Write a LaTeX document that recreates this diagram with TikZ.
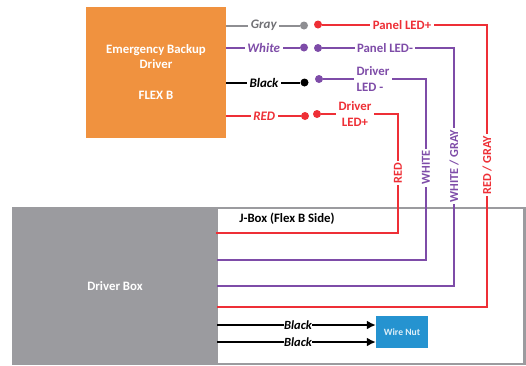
\documentclass[tikz,border=0pt]{standalone}
\usepackage{fontspec}
\setmainfont{Carlito}
\usetikzlibrary{arrows.meta}

\definecolor{flexorange}{HTML}{F0923F}
\definecolor{boxgray}{HTML}{9B9B9F}
\definecolor{wiregray}{HTML}{8E8E92}
\definecolor{wirered}{HTML}{EE2F36}
\definecolor{wirepurple}{HTML}{7E4CA8}
\definecolor{nutblue}{HTML}{2593D0}

\tikzset{
	wire/.style={line width=2pt,line join=miter},
	dot/.style={circle,fill,inner sep=0pt,minimum size=8pt},
	tag/.style={fill=white,inner sep=2.5pt,font=\bfseries\fontsize{12.8}{15.5}\selectfont},
	itag/.style={tag,font=\bfseries\itshape\fontsize{13}{15}\selectfont},
	vtag/.style={tag,rotate=90,inner sep=2pt,font=\bfseries\fontsize{12.2}{14}\selectfont},
}

\begin{document}
\begin{tikzpicture}[x=1pt,y=-1pt]

	\useasboundingbox (0,0) rectangle (526,365);

	% boxes
	\draw[boxgray,line width=2.5pt] (13,208) rectangle (524.5,364);
	\node[fill=boxgray,minimum width=206pt,minimum height=158pt,inner sep=0pt] (driverbox) at (115,286) {};
	\node[text=white,font=\bfseries\fontsize{12.8}{15}\selectfont] (drivertext) at (115,286) {Driver Box};
	\node[fill=flexorange,minimum width=140pt,minimum height=131pt,inner sep=0pt] (flex) at (156,72.5) {};
	\node[text=white,align=center,font=\bfseries\fontsize{12.8}{15.5}\selectfont] (flextext) at (156,72) {Emergency Backup\\Driver\\[15.5pt]FLEX B};
	\node[fill=nutblue,minimum width=52pt,minimum height=32pt,inner sep=0pt,text=white!85!nutblue,font=\bfseries\fontsize{9.6}{12}\selectfont] (nut) at (402,332) {Wire Nut};
	\node[font=\bfseries\fontsize{12.8}{15}\selectfont] (jbox) at (287,219) {J-Box (Flex B Side)};

	% left side of the connectors
	\node[dot,wiregray] (grayend) at (304,25.5) {};
	\node[dot,wirepurple] (whiteend) at (304,47.5) {};
	\node[dot,black] (blackend) at (304.5,82.5) {};
	\node[dot,wirered] (redend) at (305,116) {};

	\draw[wire,wiregray] (grayend) -- node[itag,pos=0.49,text=wiregray!80!black] {Gray} (grayend -| flex.east);
	\draw[wire,wirepurple] (whiteend) -- node[itag,pos=0.49] {White} (whiteend -| flex.east);
	\draw[wire,black] (blackend) -- node[itag,pos=0.49] {Black} (blackend -| flex.east);
	\draw[wire,wirered] (redend) -- node[itag,pos=0.49] {RED} (redend -| flex.east);

	% right side of the connectors
	\node[dot,wirered] (panelplus) at (318,24.5) {};
	\node[dot,wirepurple] (panelminus) at (318,48) {};
	\node[dot,wirepurple] (driverminus) at (319,79) {};
	\node[dot,wirered] (driverplus) at (317,114) {};

	\coordinate (panelplusin) at (217,307);
	\coordinate (panelminusin) at (217,286);
	\coordinate (driverminusin) at (217,260);
	\coordinate (driverplusin) at (216,233);

	\draw[wire,wirered] (panelplus) -- (487,24.5) -- (487,307) -- (panelplusin);
	\draw[wire,wirepurple] (panelminus) -- (454,48) -- (454,286) -- (panelminusin);
	\draw[wire,wirepurple] (driverminus) -- (426,79) -- (426,260) -- (driverminusin);
	\draw[wire,wirered] (driverplus) -- (398,114) -- (398,233) -- (driverplusin);

	\node[tag,text=wirered] (panelplustext) at (402,25) {Panel LED+};
	\node[tag,text=wirepurple] (panelminustext) at (385,48) {Panel LED-};
	\node[tag,text=wirepurple,align=left] (driverminustext) at (373,79) {Driver\\LED -};
	\node[tag,text=wirered,align=center] (driverplustext) at (355,114) {Driver\\LED+};

	\node[vtag,text=wirered] (redtext) at (398,173) {RED};
	\node[vtag,text=wirepurple] (whitetext) at (426,167.5) {WHITE};
	\node[vtag,text=wirepurple] (whitegraytext) at (454,166) {WHITE / GRAY};
	\node[vtag,text=wirered] (redgraytext) at (487,165) {RED / GRAY};

	% black leads to the wire nut
	\foreach \name/\y in {upper/325,lower/342} {
		\coordinate (\name) at (217,\y);
		\draw[wire,black,-{Latex[length=9pt,width=9pt]}] (\name) -- node[pos=0.51,fill=white,inner sep=0.5pt,font=\bfseries\itshape\fontsize{12.5}{14}\selectfont] {Black} (\name -| nut.west);
	}

\end{tikzpicture}
\end{document}
